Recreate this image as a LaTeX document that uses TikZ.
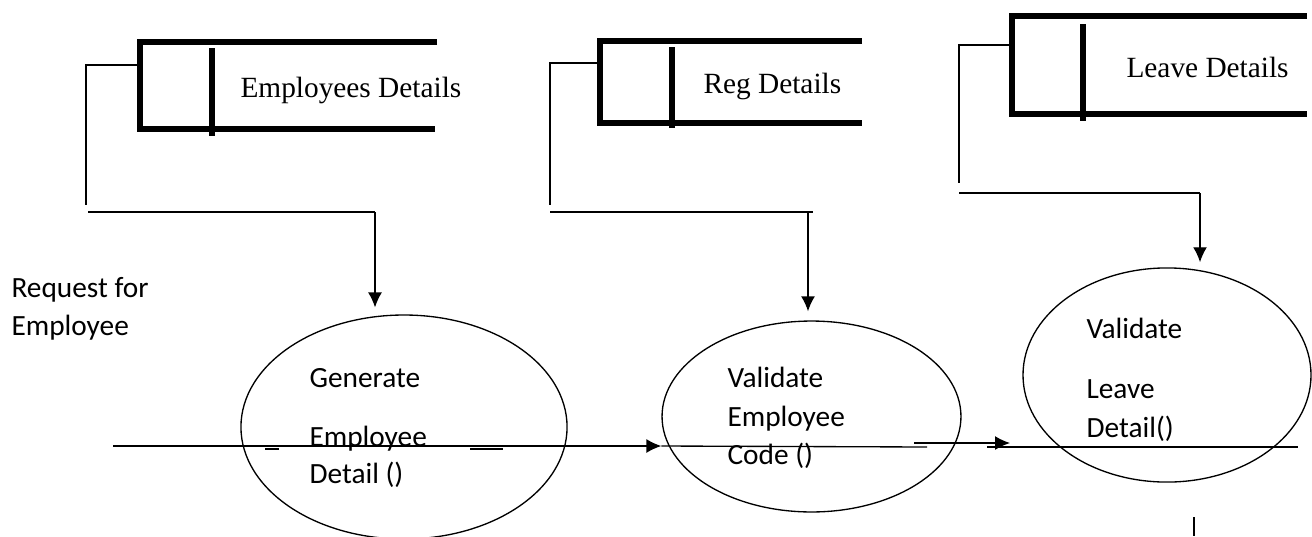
\documentclass[tikz,border=0pt]{standalone}
\usepackage{fontspec}
\setmainfont{Liberation Serif}
\newfontfamily\procfont{Carlito}
\usetikzlibrary{arrows.meta,positioning,shapes.geometric}
\tikzset{
	%Define standard arrow tip
	>={Latex[length=5.6pt,width=5.2pt]},
	%Define style for data stores
	store/.style={line width=1.9pt},
	storelabel/.style={
		anchor=base west,
		inner sep=0pt,
		font=\fontsize{11}{13}\selectfont},
	%Define style for processes
	proc/.style={
		ellipse,
		draw, line width=0.5pt,
		inner sep=0pt},
	proclabel/.style={
		anchor=base west,
		inner sep=0pt,
		font=\procfont\fontsize{11}{13}\selectfont},
	% Define line and arrow style
	wire/.style={line width=0.5pt},
	pil/.style={
		->,
		line width=0.5pt}
}

\begin{document}
\begin{tikzpicture}[x=0.375pt, y=-0.375pt]
	\useasboundingbox (0,0) rectangle (1312,536);
	
	% data stores
	\draw[store] (437,42) -- (140,42) -- (140,129) -- (435,129);
	\draw[store] (212,48) -- (212,136);
	\node[storelabel] (empstore) at (240,97) {Employees Details};
	\coordinate (emp-in) at (138,65);
	
	\draw[store] (862,41) -- (600,41) -- (600,123) -- (862,123);
	\draw[store] (672,47) -- (672,128);
	\node[storelabel] (regstore) at (703,93) {Reg Details};
	\coordinate (reg-in) at (598,63);
	
	\draw[store] (1307,16) -- (1012,16) -- (1012,114) -- (1307,114);
	\draw[store] (1083,24) -- (1083,121);
	\node[storelabel] (leavestore) at (1126,77) {Leave Details};
	\coordinate (leave-in) at (1010,45);
	
	% processes
	\node[proc, minimum width=122.3pt, minimum height=84pt] (gen) at (404,427) {};
	\node[proclabel] (gen1) at (309,387) {Generate};
	\node[proclabel] (gen2) at (309,446) {Employee};
	\node[proclabel] (gen3) at (309,483) {Detail ()};
	
	\node[proc, minimum width=112.1pt, minimum height=71.6pt] (val) at (811.5,416.5) {};
	\node[proclabel] (val1) at (727,387) {Validate};
	\node[proclabel] (val2) at (727,426) {Employee};
	\node[proclabel] (val3) at (727,464) {Code ()};
	
	\node[proc, minimum width=108pt, minimum height=80.3pt] (lv) at (1167,375) {};
	\node[proclabel] (lv1) at (1086,338) {Validate};
	\node[proclabel] (lv2) at (1086,398) {Leave};
	\node[proclabel] (lv3) at (1086,437) {Detail()};
	
	\node[proclabel] (req1) at (11,297) {Request for};
	\node[proclabel] (req2) at (11,335) {Employee};
	
	% store to process
	\coordinate (emp-down) at (86,205);
	\coordinate (emp-out) at (88,212);
	\coordinate (emp-turn) at (375,212);
	\draw[wire] (emp-in) -| (emp-down);
	\draw[wire] (emp-out) -- (emp-turn);
	\draw[pil, shorten >=2.6pt] (emp-turn) -- (emp-turn |- gen.north);
	
	\coordinate (reg-down) at (550,205);
	\coordinate (reg-out) at (550,212);
	\coordinate (reg-end) at (813,212);
	\coordinate (reg-turn) at (808,212);
	\draw[wire] (reg-in) -| (reg-down);
	\draw[wire] (reg-out) -- (reg-end);
	\draw[pil, shorten >=3.4pt] (reg-turn) -- (reg-turn |- val.north);
	
	\coordinate (leave-down) at (959,183);
	\coordinate (leave-out) at (959,193);
	\coordinate (leave-turn) at (1200,193);
	\draw[wire] (leave-in) -| (leave-down);
	\draw[wire] (leave-out) -- (leave-turn);
	\draw[pil, shorten >=1.9pt] (leave-turn) -- (leave-turn |- lv.north);
	
	% request flow
	\coordinate (req) at (113,446);
	\coordinate (flow1-end) at (927,447);
	\coordinate (flow2) at (914,443);
	\coordinate (flow2-tip) at (1010,443);
	\coordinate (flow3) at (987,447);
	\coordinate (flow3-end) at (1298,447);
	\draw[pil] (req) -- (req -| val.west);
	\draw[wire] (req -| val.west) -- (flow1-end);
	\draw[pil] (flow2) -- (flow2-tip);
	\draw[wire] (flow3) -- (flow3-end);
	\draw[line width=0.9pt] (265,449) -- (279,449) (470,449) -- (503,449);
	
	\coordinate (tick) at (1194,517);
	\draw[wire] (tick) -- (1194,536);
	
\end{tikzpicture}
\end{document}
